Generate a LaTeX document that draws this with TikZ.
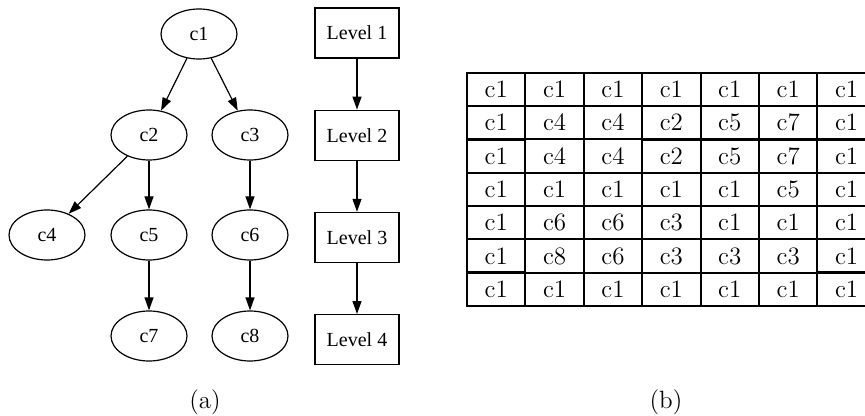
\documentclass[tikz,border=0pt]{standalone}
\usepackage{fontspec}
\newfontfamily\timesfont{Liberation Serif}
\usepackage{tikz}
\usetikzlibrary{matrix,positioning,shapes.geometric,arrows.meta}
\tikzset{
mat/.style={matrix of nodes,nodes in empty cells,inner sep=0pt,outer sep=0pt,
nodes={draw=black,line width=1pt,minimum width=29.2pt,minimum height=16.55pt,inner sep=0pt,font=\fontsize{12.5}{14}\selectfont},
row sep=-1pt,column sep=-1pt,ampersand replacement=\&,anchor=north west},
region/.style={ellipse,draw=black,line width=0.6pt,minimum width=38pt,minimum height=25pt,inner sep=0pt,font=\timesfont\fontsize{10}{12}\selectfont},
levelbox/.style={rectangle,draw=black,line width=0.6pt,minimum width=42pt,minimum height=25pt,inner sep=0pt,font=\timesfont\fontsize{10}{12}\selectfont},
linkarrow/.style={-{Triangle[length=6.5pt,width=4.5pt]},line width=0.6pt,black},
sublabel/.style={font=\fontsize{12.5}{14}\selectfont}
}
\begin{document}
\begin{tikzpicture}[x=0.5pt,y=-0.5pt]
\useasboundingbox (0,0) rectangle (865,416);
% region tree
\node[region] (c1) at (199,34) {c1};
\node[region] (c2) at (149,135) {c2};
\node[region] (c3) at (250,135) {c3};
\node[region] (c4) at (47,235) {c4};
\node[region] (c5) at (149,235) {c5};
\node[region] (c6) at (250,235) {c6};
\node[region] (c7) at (149,336) {c7};
\node[region] (c8) at (250,336) {c8};
\draw[linkarrow] (c1) -- (c2);
\draw[linkarrow] (c1) -- (c3);
\draw[linkarrow] (c2) -- (c4);
\draw[linkarrow] (c2) -- (c5);
\draw[linkarrow] (c3) -- (c6);
\draw[linkarrow] (c5) -- (c7);
\draw[linkarrow] (c6) -- (c8);
% levels
\node[levelbox] (lv1) at (357,33) {Level 1};
\node[levelbox,below=25.5pt of lv1] (lv2) {Level 2};
\node[levelbox,below=25.5pt of lv2] (lv3) {Level 3};
\node[levelbox,below=25.5pt of lv3] (lv4) {Level 4};
\draw[linkarrow] (lv1) -- (lv2);
\draw[linkarrow] (lv2) -- (lv3);
\draw[linkarrow] (lv3) -- (lv4);
% label map
\begin{scope}
\clip (0,0) rectangle (865,416);
\matrix[mat] (lab) at (466,72) {
c1 \& c1 \& c1 \& c1 \& c1 \& c1 \& c1 \\
c1 \& c4 \& c4 \& c2 \& c5 \& c7 \& c1 \\
c1 \& c4 \& c4 \& c2 \& c5 \& c7 \& c1 \\
c1 \& c1 \& c1 \& c1 \& c1 \& c5 \& c1 \\
c1 \& c6 \& c6 \& c3 \& c1 \& c1 \& c1 \\
c1 \& c8 \& c6 \& c3 \& c3 \& c3 \& c1 \\
c1 \& c1 \& c1 \& c1 \& c1 \& c1 \& c1 \\
};
\end{scope}
\node[sublabel] (capa) at (205,402) {(a)};
\node[sublabel] (capb) at (666,402) {(b)};
\end{tikzpicture}
\end{document}
